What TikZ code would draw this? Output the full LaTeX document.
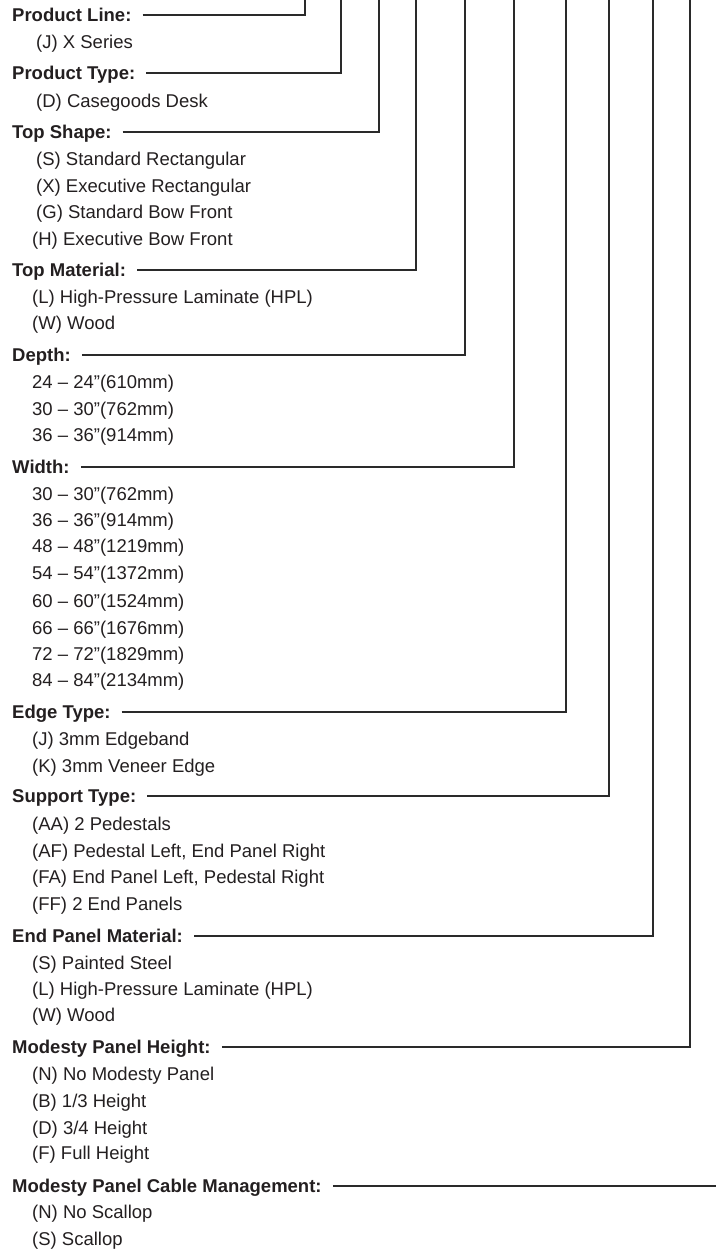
\documentclass[tikz,border=0pt]{standalone}
\usepackage{fontspec}
\setmainfont{Liberation Sans}
\definecolor{ink}{HTML}{231F20}
\definecolor{rule}{HTML}{2A2A2A}
\begin{document}
\begin{tikzpicture}[x=1pt,y=-1pt,
  head/.style={anchor=west,inner sep=0pt,text height=13.25pt,text depth=0pt,
    font=\fontsize{18.5}{22}\selectfont\bfseries,text=ink},
  opt/.style={anchor=west,inner sep=0pt,text height=13.25pt,text depth=0pt,
    font=\fontsize{18.5}{22}\selectfont,text=ink},
  conn/.style={draw=rule,line width=2.2pt,line join=miter}]
\useasboundingbox (0,0) rectangle (715,1250);
% top ends of the vertical leaders
\coordinate (v1) at (305,-2);
\coordinate (v2) at (341,-2);
\coordinate (v3) at (379,-2);
\coordinate (v4) at (416,-2);
\coordinate (v5) at (465,-2);
\coordinate (v6) at (514,-2);
\coordinate (v7) at (566,-2);
\coordinate (v8) at (609,-2);
\coordinate (v9) at (653,-2);
\coordinate (v10) at (690,-2);
% headings
\node[head] (h1) at (12,15) {Product Line:};
\node[head] (h2) at (12,73) {Product Type:};
\node[head] (h3) at (12,132) {Top Shape:};
\node[head] (h4) at (12,270) {Top Material:};
\node[head] (h5) at (12,355) {Depth:};
\node[head] (h6) at (12,467) {Width:};
\node[head] (h7) at (12,712) {Edge Type:};
\node[head] (h8) at (12,796) {Support Type:};
\node[head] (h9) at (12,936) {End Panel Material:};
\node[head] (h10) at (12,1047) {Modesty Panel Height:};
\node[head] (h11) at (12,1186) {Modesty Panel Cable Management:};
\coordinate (rend) at (717,1186);
% options
\node[opt] (o1) at (36,42) {(J) X Series};
\node[opt] (o2) at (36,101) {(D) Casegoods Desk};
\node[opt] (o3) at (36,159) {(S) Standard Rectangular};
\node[opt] (o4) at (36,186) {(X) Executive Rectangular};
\node[opt] (o5) at (36,212) {(G) Standard Bow Front};
\node[opt] (o6) at (32,239) {(H) Executive Bow Front};
\node[opt] (o7) at (32,297) {(L) High-Pressure Laminate (HPL)};
\node[opt] (o8) at (32,323) {(W) Wood};
\node[opt] (o9) at (32,382) {24 – 24”(610mm)};
\node[opt] (o10) at (32,409) {30 – 30”(762mm)};
\node[opt] (o11) at (32,435) {36 – 36”(914mm)};
\node[opt] (o12) at (32,494) {30 – 30”(762mm)};
\node[opt] (o13) at (32,520) {36 – 36”(914mm)};
\node[opt] (o14) at (32,546) {48 – 48”(1219mm)};
\node[opt] (o15) at (32,573) {54 – 54”(1372mm)};
\node[opt] (o16) at (32,601) {60 – 60”(1524mm)};
\node[opt] (o17) at (32,628) {66 – 66”(1676mm)};
\node[opt] (o18) at (32,654) {72 – 72”(1829mm)};
\node[opt] (o19) at (32,680) {84 – 84”(2134mm)};
\node[opt] (o20) at (32,739) {(J) 3mm Edgeband};
\node[opt] (o21) at (32,766) {(K) 3mm Veneer Edge};
\node[opt] (o22) at (32,824) {(AA) 2 Pedestals};
\node[opt] (o23) at (32,851) {(AF) Pedestal Left, End Panel Right};
\node[opt] (o24) at (32,877) {(FA) End Panel Left, Pedestal Right};
\node[opt] (o25) at (32,904) {(FF) 2 End Panels};
\node[opt] (o26) at (32,963) {(S) Painted Steel};
\node[opt] (o27) at (32,989) {(L) High-Pressure Laminate (HPL)};
\node[opt] (o28) at (32,1015) {(W) Wood};
\node[opt] (o29) at (32,1074) {(N) No Modesty Panel};
\node[opt] (o30) at (32,1101) {(B) 1/3 Height};
\node[opt] (o31) at (32,1128) {(D) 3/4 Height};
\node[opt] (o32) at (32,1153) {(F) Full Height};
\node[opt] (o33) at (32,1212) {(N) No Scallop};
\node[opt] (o34) at (32,1239) {(S) Scallop};
% leaders
\foreach \i in {1,...,10}{
  \draw[conn] ([xshift=11pt]h\i.east) -- (h\i.east -| v\i) -- (v\i);
}
\draw[conn] ([xshift=11pt]h11.east) -- (h11.east -| rend);
\end{tikzpicture}
\end{document}
